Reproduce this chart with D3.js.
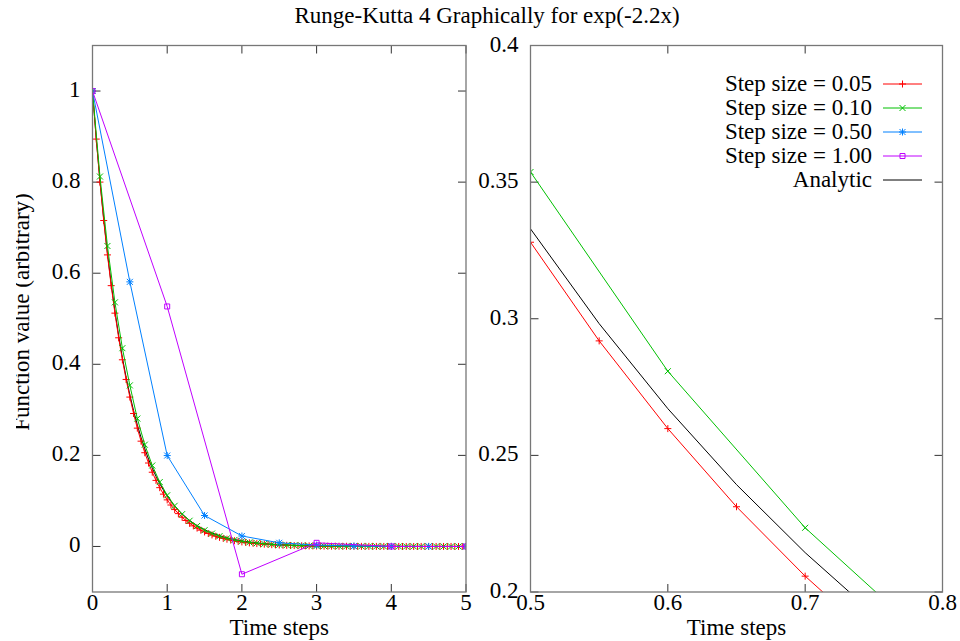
<!DOCTYPE html>
<html>
<head>
<meta charset="utf-8">
<script src="https://cdn.jsdelivr.net/npm/d3@7/dist/d3.min.js"></script>
<style>
body { margin: 0; background: #fff; }
text { font-family: "Liberation Serif", "Times New Roman", serif; font-size: 23px; fill: #000; }
</style>
</head>
<body>
<div id="chart-area"></div>
<script>
// chart text
var titleText = "Runge-Kutta 4 Graphically for exp(-2.2x)";
var xLabel = "Time steps";
var yLabel = "Function value (arbitrary)";

// series
var stepSizes = [0.05, 0.10, 0.50, 1.00];
var seriesNames = ["Step size = 0.05", "Step size = 0.10", "Step size = 0.50", "Step size = 1.00"];
var seriesColors = ["#ff0000", "#00c000", "#0080ff", "#c000ff"];
var seriesMarks = ["plus", "cross", "star", "square"];

var rk05 = [1, 0.8945, 0.8001, 0.7157, 0.6402, 0.5727, 0.5123, 0.4582, 0.4099, 0.3667,
    0.3280, 0.2919, 0.2598, 0.2312, 0.2058, 0.1832, 0.1630, 0.1451, 0.1291, 0.1149,
    0.1023, 0.0910, 0.0810, 0.0721, 0.0642, 0.0571, 0.0508, 0.0452, 0.0403, 0.0358,
    0.0319, 0.0284, 0.0253, 0.0225, 0.0200, 0.0178, 0.0159, 0.0141, 0.0126, 0.0112,
    0.0100, 0.0089, 0.0079, 0.0070, 0.0063, 0.0056, 0.0050, 0.0044, 0.0039, 0.0035,
    0.0031, 0.0028, 0.0025, 0.0022, 0.0020, 0.0018, 0.0016, 0.0014, 0.0012, 0.0011,
    0.0010, 0.0009, 0.0008, 0.0007, 0.0006, 0.0006, 0.0005, 0.0004, 0.0004, 0.0003,
    0.0003, 0.0003, 0.0002, 0.0002, 0.0002, 0.0002, 0.0001, 0.0001, 0.0001, 0.0001,
    0.0001, 0.0001, 0.0001, 0, 0, 0, 0, 0, 0, 0,
    0, 0, 0, 0, 0, 0, 0, 0, 0, 0, 0];

var rk10 = [1, 0.8123, 0.6598, 0.5360, 0.4354, 0.3537, 0.2808, 0.2235, 0.1778, 0.1414,
    0.1124, 0.0893, 0.0710, 0.0565, 0.0449, 0.0357, 0.0284, 0.0226, 0.0179, 0.0143,
    0.0113, 0.0090, 0.0072, 0.0057, 0.0045, 0.0036, 0.0029, 0.0023, 0.0018, 0.0014,
    0.0011, 0.0009, 0.0007, 0.0006, 0.0005, 0.0004, 0.0003, 0.0002, 0.0002, 0.0002,
    0.0001, 0.0001, 0.0001, 0.0001, 0, 0, 0, 0, 0, 0, 0];

var rk50 = [1, 0.581, 0.1996, 0.068, 0.023, 0.008, 0.003, 0.001, 0.0003, 0.0001, 0];

var rk100 = [1, 0.527, -0.061, 0.008, 0, 0];

var analyticStep = 0.05;
var analytic = [1, 0.8958, 0.8025, 0.7189, 0.6440, 0.5769, 0.5169, 0.4630, 0.4148, 0.3716,
    0.3329, 0.2982, 0.2671, 0.2393, 0.2144, 0.1920, 0.1720, 0.1541, 0.1381, 0.1237,
    0.1108, 0.0993, 0.0889, 0.0797, 0.0714, 0.0639, 0.0573, 0.0513, 0.0460, 0.0412,
    0.0369, 0.0330, 0.0296, 0.0265, 0.0238, 0.0213, 0.0191, 0.0171, 0.0153, 0.0137,
    0.0123, 0.0110, 0.0099, 0.0088, 0.0079, 0.0071, 0.0064, 0.0057, 0.0051, 0.0046,
    0.0041, 0.0037, 0.0033, 0.0029, 0.0026, 0.0024, 0.0021, 0.0019, 0.0017, 0.0015,
    0.0014, 0.0012, 0.0011, 0.0010, 0.0009, 0.0008, 0.0007, 0.0006, 0.0006, 0.0005,
    0.0005, 0.0004, 0.0004, 0.0003, 0.0003, 0.0003, 0.0002, 0.0002, 0.0002, 0.0002,
    0.0001, 0.0001, 0.0001, 0.0001, 0.0001, 0.0001, 0, 0, 0, 0,
    0, 0, 0, 0, 0, 0, 0, 0, 0, 0, 0];

// ticks
var leftXTicks = [0, 1, 2, 3, 4, 5];
var leftYTicks = [0, 0.2, 0.4, 0.6, 0.8, 1];
var rightXTicks = [0.5, 0.6, 0.7, 0.8];
var rightYTicks = [0.2, 0.25, 0.3, 0.35, 0.4];

var allSeries = [rk05, rk10, rk50, rk100];

var svg = d3.select("#chart-area").append("svg")
    .attr("width", 960)
    .attr("height", 641);

svg.append("text")
    .attr("x", 487)
    .attr("y", 23)
    .attr("text-anchor", "middle")
    .text(titleText);

// y label, cut at the left edge like the original
svg.append("clipPath").attr("id", "ylabclip")
    .append("rect").attr("x", 16).attr("y", 0).attr("width", 100).attr("height", 641);
svg.append("g")
    .attr("clip-path", "url(#ylabclip)")
    .append("text")
    .attr("transform", "translate(29,312) rotate(-90)")
    .attr("text-anchor", "middle")
    .text(yLabel);

function markPath(kind) {
    if (kind == "plus") return "M-3.5,0H3.5M0,-3.5V3.5";
    if (kind == "cross") return "M-3,-3L3,3M-3,3L3,-3";
    if (kind == "star") return "M-3.5,0H3.5M0,-3.5V3.5M-3,-3L3,3M-3,3L3,-3";
    return "M-2.5,-2.5H2.5V2.5H-2.5Z";
}

function drawPanel(id, x, y, xTicks, yTicks) {
    var g = svg.append("g");
    var x0 = x.range()[0], x1 = x.range()[1];
    var y0 = y.range()[1], y1 = y.range()[0];

    g.append("clipPath").attr("id", id)
        .append("rect").attr("x", x0).attr("y", y0).attr("width", x1 - x0).attr("height", y1 - y0);

    // ticks, mirrored on all four sides, pointing inward
    xTicks.forEach((t) => {
        g.append("line").attr("x1", x(t)).attr("x2", x(t)).attr("y1", y1).attr("y2", y1 - 8)
            .attr("stroke", "#333");
        g.append("line").attr("x1", x(t)).attr("x2", x(t)).attr("y1", y0).attr("y2", y0 + 8)
            .attr("stroke", "#333");
        g.append("text").attr("x", x(t)).attr("y", y1 + 18)
            .attr("text-anchor", "middle").text(String(t));
    });
    yTicks.forEach((t) => {
        g.append("line").attr("x1", x0).attr("x2", x0 + 8).attr("y1", y(t)).attr("y2", y(t))
            .attr("stroke", "#333");
        g.append("line").attr("x1", x1).attr("x2", x1 - 8).attr("y1", y(t)).attr("y2", y(t))
            .attr("stroke", "#333");
        g.append("text").attr("x", x0 - 12).attr("y", y(t) + 6)
            .attr("text-anchor", "end").text(String(t));
    });

    g.append("text")
        .attr("x", (x0 + x1) / 2)
        .attr("y", 635)
        .attr("text-anchor", "middle")
        .text(xLabel);

    var plot = g.append("g").attr("clip-path", "url(#" + id + ")");
    var xd = x.domain(), yd = y.domain();
    var inside = (p) => p[0] >= xd[0] && p[0] <= xd[1] && p[1] >= yd[0] && p[1] <= yd[1];
    var line = d3.line().x((d) => x(d[0])).y((d) => y(d[1]));

    // a segment is only drawn when one of its ends lies inside the plot
    function runs(pts) {
        var out = [], cur = null;
        for (var i = 1; i < pts.length; i++) {
            if (inside(pts[i - 1]) || inside(pts[i])) {
                if (!cur) { cur = [pts[i - 1]]; out.push(cur); }
                cur.push(pts[i]);
            } else {
                cur = null;
            }
        }
        return out;
    }

    // analytic curve goes underneath the step series
    var apts = analytic.map((v, i) => [i * analyticStep, v]);
    plot.selectAll(null).data(runs(apts)).enter()
        .append("path")
        .attr("d", line)
        .attr("fill", "none")
        .attr("stroke", "#000")
        .attr("stroke-width", 1);

    allSeries.forEach((vals, k) => {
        var pts = vals.map((v, i) => [i * stepSizes[k], v]);
        plot.selectAll(null).data(runs(pts)).enter()
            .append("path")
            .attr("d", line)
            .attr("fill", "none")
            .attr("stroke", seriesColors[k])
            .attr("stroke-width", 1);
        plot.selectAll(null).data(pts.filter(inside)).enter()
            .append("path")
            .attr("transform", (d) => "translate(" + x(d[0]) + "," + y(d[1]) + ")")
            .attr("d", markPath(seriesMarks[k]))
            .attr("fill", "none")
            .attr("stroke", seriesColors[k])
            .attr("stroke-width", 1);
    });

    // frame
    g.append("rect")
        .attr("x", x0).attr("y", y0)
        .attr("width", x1 - x0).attr("height", y1 - y0)
        .attr("fill", "none")
        .attr("stroke", "#777")
        .attr("stroke-width", 1.3);
    return g;
}

var xLeft = d3.scaleLinear().domain([0, 5]).range([92.5, 466]);
var yLeft = d3.scaleLinear().domain([-0.1, 1.1]).range([592, 45.5]);
drawPanel("clipLeft", xLeft, yLeft, leftXTicks, leftYTicks);

var xRight = d3.scaleLinear().domain([0.5, 0.8]).range([530.5, 942.5]);
var yRight = d3.scaleLinear().domain([0.2, 0.4]).range([592, 45.5]);
var right = drawPanel("clipRight", xRight, yRight, rightXTicks, rightYTicks);

// legend in the right panel
var legendNames = seriesNames.concat(["Analytic"]);
var legendColors = seriesColors.concat(["#000"]);
legendNames.forEach((name, i) => {
    var ly = 84 + i * 24;
    right.append("text").attr("x", 872).attr("y", ly + 7)
        .attr("text-anchor", "end").text(name);
    right.append("line").attr("x1", 883).attr("x2", 922).attr("y1", ly).attr("y2", ly)
        .attr("stroke", legendColors[i]).attr("stroke-width", 1);
    if (i < seriesMarks.length) {
        right.append("path")
            .attr("transform", "translate(902.5," + ly + ")")
            .attr("d", markPath(seriesMarks[i]))
            .attr("fill", "none")
            .attr("stroke", legendColors[i]);
    }
});
</script>
</body>
</html>
